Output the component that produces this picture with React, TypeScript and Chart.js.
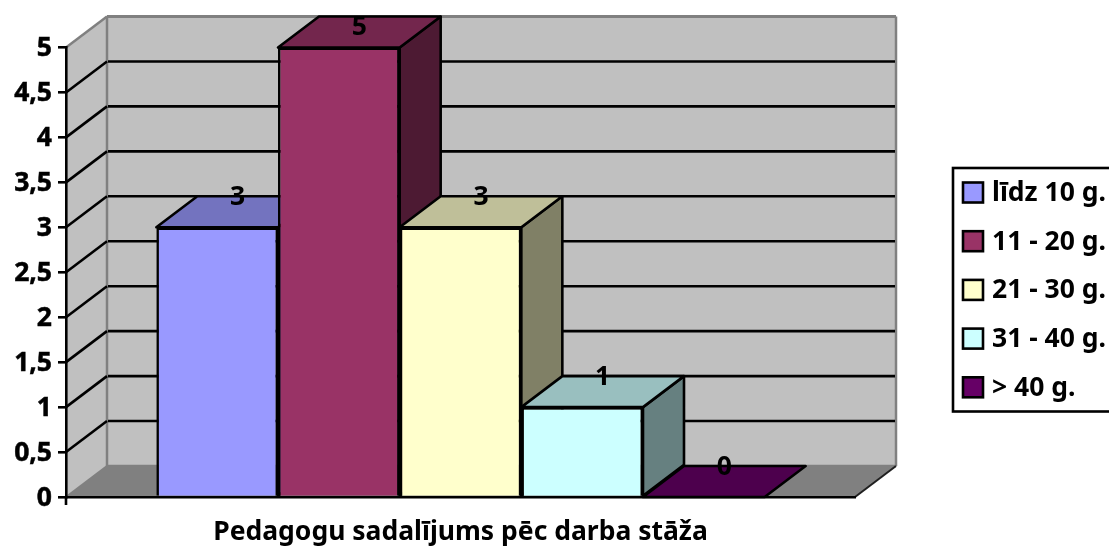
import React, { useEffect, useRef } from "react";
import { Chart, registerables } from "chart.js";

Chart.register(...registerables);

const categories = ["Pedagogu sadalījums pēc darba stāža"];
const seriesNames = ["līdz 10 g.", "11 - 20 g.", "21 - 30 g.", "31 - 40 g.", "> 40 g."];
const seriesValues = [3, 5, 3, 1, 0];
const frontColors = ["#9999FF", "#993366", "#FFFFCC", "#CCFFFF", "#660066"];
const topColors = ["#7373BF", "#73264D", "#BFBF99", "#99BFBF", "#4D004D"];
const sideColors = ["#4D4D80", "#4D1A33", "#808066", "#668080", "#330033"];

const DX = 41;
const DY = 31;
const FONT = "'Noto Sans', sans-serif";
const FS = 26.5;
const LW = 2.6;

function poly(ctx: CanvasRenderingContext2D, pts: number[][], fill: string | null, stroke: string | null, lw = LW) {
  ctx.beginPath();
  pts.forEach((p, i) => (i ? ctx.lineTo(p[0], p[1]) : ctx.moveTo(p[0], p[1])));
  ctx.closePath();
  if (fill) {
    ctx.fillStyle = fill;
    ctx.fill();
  }
  if (stroke) {
    ctx.strokeStyle = stroke;
    ctx.lineWidth = lw;
    ctx.lineJoin = "round";
    ctx.stroke();
  }
}

function line(ctx: CanvasRenderingContext2D, x1: number, y1: number, x2: number, y2: number, c: string, lw = LW) {
  ctx.beginPath();
  ctx.moveTo(x1, y1);
  ctx.lineTo(x2, y2);
  ctx.strokeStyle = c;
  ctx.lineWidth = lw;
  ctx.stroke();
}

const box3d = {
  id: "box3d",
  beforeDraw(chart: any) {
    const { ctx, scales } = chart;
    const { left, right } = scales.x;
    const yS = scales.y;
    const top = yS.getPixelForValue(5);
    const bot = yS.getPixelForValue(0);
    ctx.save();
    ctx.fillStyle = "#fff";
    ctx.fillRect(0, 0, chart.width, chart.height);
    poly(ctx, [[left, top], [left + DX, top - DY], [left + DX, bot - DY], [left, bot]], "#C0C0C0", null);
    ctx.fillStyle = "#C0C0C0";
    ctx.fillRect(left + DX, top - DY, right - left, bot - top);
    poly(ctx, [[left, bot], [right, bot], [right + DX, bot - DY], [left + DX, bot - DY]], "#808080", null);
    // wall edges
    line(ctx, left, top, left + DX, top - DY, "#808080", 2.5);
    line(ctx, left + DX, top - DY, right + DX, top - DY, "#808080", 3);
    line(ctx, left + DX, top - DY, left + DX, bot - DY, "#808080", 2.5);
    line(ctx, right + DX, top - DY, right + DX, bot - DY, "#808080", 2.5);
    line(ctx, left + DX, bot - DY, right + DX, bot - DY, "#808080", 2.5);
    line(ctx, left, bot, left + DX, bot - DY, "#808080", 2);
    line(ctx, right, bot, right + DX, bot - DY, "#202020", 2);
    // gridlines wrap over side wall and back wall
    yS.ticks.forEach((t: any) => {
      if (t.value <= 0 || t.value >= 5) return;
      const y = yS.getPixelForValue(t.value);
      line(ctx, left, y, left + DX, y - DY, "#000");
      line(ctx, left + DX + 1, y - DY, right + DX - 1, y - DY, "#000");
    });
    // corner tick below the category axis
    line(ctx, left, bot, left, bot + 8, "#000");
    ctx.restore();
  },
  beforeDatasetsDraw(chart: any) {
    const { ctx } = chart;
    ctx.save();
    seriesValues.forEach((_, i) => {
      const b = chart.getDatasetMeta(i).data[0];
      const l = b.x - b.width / 2;
      const r = b.x + b.width / 2;
      const t = b.y;
      const base = b.base;
      if (base - t > 0.5) {
        poly(ctx, [[r, t], [r + DX, t - DY], [r + DX, base - DY], [r, base]], sideColors[i], "#000");
      }
      poly(ctx, [[l, t], [r, t], [r + DX, t - DY], [l + DX, t - DY]], topColors[i], "#000");
    });
    ctx.restore();
  },
  afterDraw(chart: any) {
    const { ctx } = chart;
    ctx.save();
    ctx.font = `bold ${FS}px ${FONT}`;
    ctx.textAlign = "center";
    ctx.textBaseline = "middle";
    ctx.fillStyle = "#000";
    // value labels
    seriesValues.forEach((v, i) => {
      const b = chart.getDatasetMeta(i).data[0];
      const x = b.x + DX / 2;
      const y = Math.max(b.y - DY, 26) + 1;
      ctx.fillText(String(v), x, y);
    });
    // legend
    const bx = 953;
    const by = 168;
    const bb = 411.5;
    ctx.fillStyle = "#fff";
    ctx.fillRect(bx, by, chart.width - bx + 4, bb - by);
    ctx.strokeStyle = "#000";
    ctx.lineWidth = LW;
    ctx.strokeRect(bx, by, chart.width - bx + 4, bb - by);
    ctx.textAlign = "left";
    seriesNames.forEach((name, i) => {
      const y = 182.5 + i * 48.7;
      ctx.fillStyle = frontColors[i];
      ctx.fillRect(963, y, 20, 20);
      ctx.strokeRect(963, y, 20, 20);
      ctx.fillStyle = "#000";
      ctx.fillText(name, 992, y + 11);
    });
    ctx.restore();
  },
};

export default function App() {
  const ref = useRef<HTMLCanvasElement>(null);
  useEffect(() => {
    const chart = new Chart(ref.current as HTMLCanvasElement, {
      type: "bar",
      data: {
        labels: categories,
        datasets: seriesNames.map((name, i) => ({
          label: name,
          data: [seriesValues[i]],
          backgroundColor: frontColors[i],
          borderColor: "#000",
          borderWidth: LW,
          categoryPercentage: 0.771,
          barPercentage: 1,
        })),
      },
      options: {
        responsive: false,
        animation: false,
        devicePixelRatio: 1,
        layout: { padding: { left: 0, top: 47.5, right: 254, bottom: 0 } },
        plugins: { legend: { display: false }, title: { display: false }, tooltip: { enabled: false } },
        scales: {
          x: {
            grid: { display: false },
            border: { display: true, color: "#000", width: LW },
            ticks: { display: false },
            title: {
              display: true,
              text: categories[0],
              color: "#000",
              font: { family: FONT, size: FS, weight: "bold" },
              padding: { top: 0, bottom: 0 },
            },
            afterFit: (s: any) => {
              s.height = 51;
            },
          },
          y: {
            min: 0,
            max: 5,
            ticks: {
              stepSize: 0.5,
              color: "#000",
              padding: 6,
              labelOffset: 1,
              font: { family: FONT, size: FS, weight: "bold" },
              textStrokeColor: "#000",
              textStrokeWidth: 0.5,
              callback: (v: any) => String(v).replace(".", ","),
            },
            grid: { drawOnChartArea: false, drawTicks: true, tickLength: 8, color: "#000", lineWidth: LW },
            border: { display: true, color: "#000", width: LW },
            afterFit: (s: any) => {
              s.width = 66;
            },
          },
        },
      },
      plugins: [box3d],
    } as any);
    return () => chart.destroy();
  }, []);
  return (
    <div style={{ position: "absolute", left: 0, top: 0, width: 1109, height: 548, background: "#fff" }}>
      <canvas ref={ref} width={1109} height={548} style={{ display: "block" }} />
    </div>
  );
}
